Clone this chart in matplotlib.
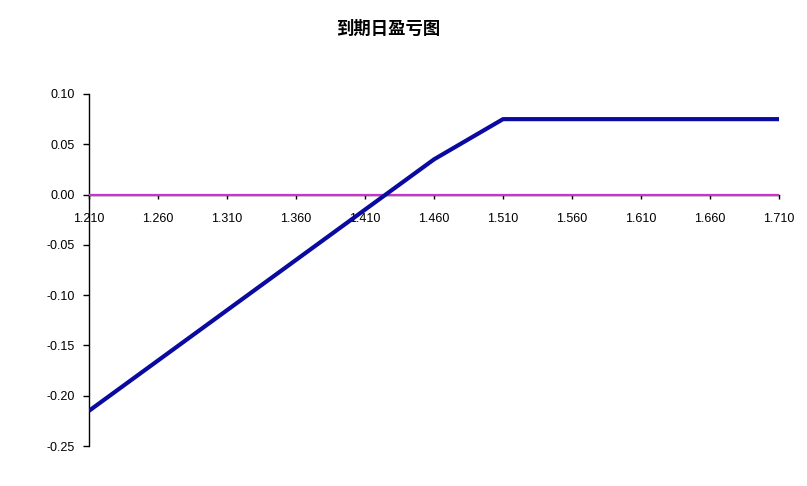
import matplotlib
matplotlib.use("Agg")
import matplotlib.pyplot as plt
import numpy as np

plt.rcParams['font.family'] = ['Liberation Sans', 'Noto Sans CJK SC', 'DejaVu Sans']

# Data
price = [1.21, 1.46, 1.51, 1.71]
pnl = [-0.215, 0.035, 0.075, 0.075]
zero_x = [1.21, 1.71]
zero_y = [0.0, 0.0]
x_ticks = [1.21, 1.26, 1.31, 1.36, 1.41, 1.46, 1.51, 1.56, 1.61, 1.66, 1.71]
y_ticks = [-0.25, -0.20, -0.15, -0.10, -0.05, 0.00, 0.05, 0.10]
title = "到期日盈亏图"

fig = plt.figure(figsize=(8.07, 4.86), dpi=100)
ax = fig.add_axes([89/807, 1-446/486, (779-89)/807, (446-94)/486])

ax.plot(zero_x, zero_y, color='#CC33CC', lw=1.6, zorder=3, solid_capstyle='butt')
ax.plot(price, pnl, color='#0A0AA0', lw=3.0, zorder=4, solid_capstyle='butt')

ax.set_xlim(1.21, 1.71)
ax.set_ylim(-0.25, 0.10)

ax.spines['top'].set_visible(False)
ax.spines['right'].set_visible(False)
ax.spines['bottom'].set_position(('data', 0.0))
ax.spines['left'].set_linewidth(1.0)
ax.spines['bottom'].set_linewidth(1.0)

ax.set_xticks(x_ticks)
ax.set_xticklabels([f"{v:.3f}" for v in x_ticks], fontsize=9)
ax.set_yticks(y_ticks)
ax.set_yticklabels([f"{v:.2f}" for v in y_ticks], fontsize=9)
ax.tick_params(axis='x', direction='out', length=3, width=1, pad=10.5)
ax.tick_params(axis='y', direction='out', length=4, width=1, pad=6)

fig.text(388/807, 1-29/486, title, ha='center', va='center', fontsize=12.5,
         fontweight='bold', family=['Noto Sans CJK SC', 'DejaVu Sans'])

fig.savefig('out.png', dpi=100, facecolor='white')
